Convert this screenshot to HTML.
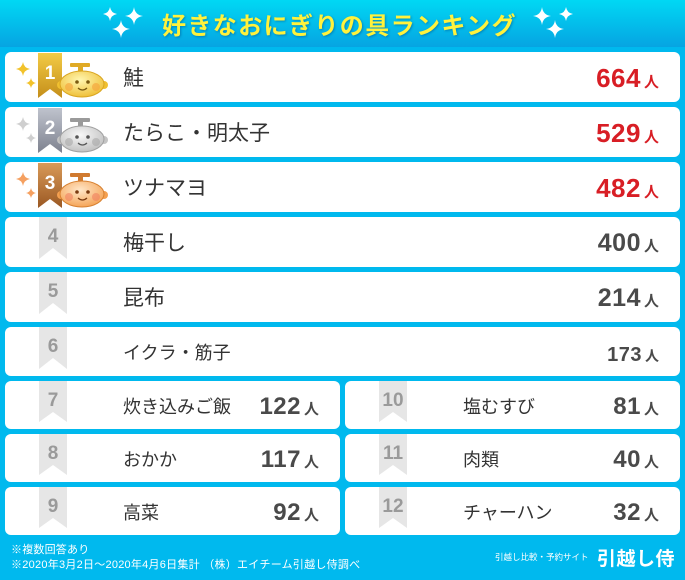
<!DOCTYPE html>
<html><head><meta charset="utf-8">
<style>
html,body{margin:0;padding:0}
body{width:685px;height:580px;position:relative;overflow:hidden;background:#00b9ee;font-family:"Liberation Sans","Noto Sans CJK JP",sans-serif}
.band{position:absolute;left:0;top:0;width:685px;height:47px;background:linear-gradient(#00d8f4,#06a4e2)}
.title{position:absolute;left:162px;top:0;height:47px;line-height:47px;font-family:"Noto Sans CJK JP",sans-serif;font-weight:bold;font-size:24px;letter-spacing:1.4px;color:#fff23c;text-shadow:1px 1px 2px rgba(0,70,130,.45);white-space:nowrap}
.card{position:absolute;background:#fff;border-radius:6px}
.card svg{position:absolute;left:0;top:0}
.lbl{position:absolute;left:118px;top:0;font-family:"Noto Sans CJK JP",sans-serif;color:#333;white-space:nowrap}
.num{position:absolute;right:21px;line-height:1;font-family:"Liberation Sans",sans-serif;font-weight:bold;color:#4a4a4a;white-space:nowrap;letter-spacing:0.5px}
.num span{font-family:"Noto Sans CJK JP",sans-serif;font-size:15px;margin-left:3px;letter-spacing:0}
.red{color:#d81e25}
.foot{position:absolute;color:#fff;font-family:"Liberation Sans","Noto Sans CJK JP",sans-serif;white-space:nowrap;line-height:1}
</style></head><body>
<div class="band"></div>
<svg style="position:absolute;left:0;top:0" width="685" height="47">
<g fill="#fff">
<path d="M110,7 Q111,13 117,14 Q111,15 110,21 Q109,15 103,14 Q109,13 110,7Z"/>
<path d="M134,7 Q135,15 143,16 Q135,17 134,25 Q133,17 125,16 Q133,15 134,7Z"/>
<path d="M121,20 Q122,28 130,29 Q122,30 121,38 Q120,30 112,29 Q120,28 121,20Z"/>
<path d="M566,7 Q567,13 573,14 Q567,15 566,21 Q565,15 559,14 Q565,13 566,7Z"/>
<path d="M542,7 Q543,15 551,16 Q543,17 542,25 Q541,17 533,16 Q541,15 542,7Z"/>
<path d="M555,20 Q556,28 564,29 Q556,30 555,38 Q554,30 546,29 Q554,28 555,20Z"/>
</g></svg>
<div class="title">好きなおにぎりの具ランキング</div>

<!-- 1 -->
<div class="card" style="left:5px;top:52px;width:675px;height:50px">
<svg width="110" height="50">
<defs>
<linearGradient id="g1" x1="0" y1="0" x2="0" y2="1"><stop offset="0" stop-color="#f3cb45"/><stop offset="1" stop-color="#c48e1a"/></linearGradient>
<radialGradient id="f1" cx="0.45" cy="0.35" r="0.7"><stop offset="0" stop-color="#fff6b0"/><stop offset="1" stop-color="#eebc30"/></radialGradient>
</defs>
<g fill="#f2c22a">
<path d="M18,10 Q19,16 25,17 Q19,18 18,24 Q17,18 11,17 Q17,16 18,10Z"/>
<path d="M26,26 Q26.8,30.2 31,31 Q26.8,31.8 26,36 Q25.2,31.8 21,31 Q25.2,30.2 26,26Z"/>
</g>
<path d="M33,1 H57 V46 L45,37 L33,46 Z" fill="url(#g1)"/>
<text x="45" y="27" text-anchor="middle" font-family="Liberation Sans" font-weight="bold" font-size="19" fill="#fff">1</text>
<rect x="65" y="11" width="20" height="4" rx="1" fill="#e0aa25"/>
<rect x="73" y="11" width="5" height="11" fill="#e0aa25"/>
<circle cx="56" cy="33" r="4" fill="#f0c030"/><circle cx="99" cy="33" r="4" fill="#f0c030"/>
<ellipse cx="77" cy="32" rx="22" ry="13" fill="url(#f1)" stroke="#d9a520" stroke-width="1"/>
<circle cx="64" cy="35" r="4" fill="#f5a840" opacity=".7"/><circle cx="91" cy="35" r="4" fill="#f5a840" opacity=".7"/>
<circle cx="72" cy="30" r="1.8" fill="#7a5a10"/><circle cx="83" cy="30" r="1.8" fill="#7a5a10"/>
<path d="M73,36 Q77.5,40 82,36" stroke="#7a5a10" stroke-width="1.2" fill="none"/>
</svg>
<div class="lbl" style="font-size:21px;line-height:50px">鮭</div>
<div class="num red" style="font-size:26px;top:13px">664<span>人</span></div>
</div>

<!-- 2 -->
<div class="card" style="left:5px;top:107px;width:675px;height:50px">
<svg width="110" height="50">
<defs>
<linearGradient id="g2" x1="0" y1="0" x2="0" y2="1"><stop offset="0" stop-color="#bfc3cd"/><stop offset="1" stop-color="#7e828f"/></linearGradient>
<radialGradient id="f2" cx="0.45" cy="0.35" r="0.7"><stop offset="0" stop-color="#f8f8f8"/><stop offset="1" stop-color="#bdbdbd"/></radialGradient>
</defs>
<g fill="#cfcfcf">
<path d="M18,10 Q19,16 25,17 Q19,18 18,24 Q17,18 11,17 Q17,16 18,10Z"/>
<path d="M26,26 Q26.8,30.2 31,31 Q26.8,31.8 26,36 Q25.2,31.8 21,31 Q25.2,30.2 26,26Z"/>
</g>
<path d="M33,1 H57 V46 L45,37 L33,46 Z" fill="url(#g2)"/>
<text x="45" y="27" text-anchor="middle" font-family="Liberation Sans" font-weight="bold" font-size="19" fill="#fff">2</text>
<rect x="65" y="11" width="20" height="4" rx="1" fill="#9a9a9a"/>
<rect x="73" y="11" width="5" height="11" fill="#9a9a9a"/>
<circle cx="56" cy="33" r="4" fill="#c4c4c4"/><circle cx="99" cy="33" r="4" fill="#c4c4c4"/>
<ellipse cx="77" cy="32" rx="22" ry="13" fill="url(#f2)" stroke="#a0a0a0" stroke-width="1"/>
<circle cx="64" cy="35" r="4" fill="#a8a8a8" opacity=".6"/><circle cx="91" cy="35" r="4" fill="#a8a8a8" opacity=".6"/>
<circle cx="72" cy="30" r="1.8" fill="#555"/><circle cx="83" cy="30" r="1.8" fill="#555"/>
<path d="M73,36 Q77.5,40 82,36" stroke="#555" stroke-width="1.2" fill="none"/>
</svg>
<div class="lbl" style="font-size:21px;line-height:50px">たらこ・明太子</div>
<div class="num red" style="font-size:26px;top:13px">529<span>人</span></div>
</div>

<!-- 3 -->
<div class="card" style="left:5px;top:162px;width:675px;height:50px">
<svg width="110" height="50">
<defs>
<linearGradient id="g3" x1="0" y1="0" x2="0" y2="1"><stop offset="0" stop-color="#d99a58"/><stop offset="1" stop-color="#9a5823"/></linearGradient>
<radialGradient id="f3" cx="0.45" cy="0.35" r="0.7"><stop offset="0" stop-color="#ffe6c8"/><stop offset="1" stop-color="#f4a050"/></radialGradient>
</defs>
<g fill="#f5a060">
<path d="M18,10 Q19,16 25,17 Q19,18 18,24 Q17,18 11,17 Q17,16 18,10Z"/>
<path d="M26,26 Q26.8,30.2 31,31 Q26.8,31.8 26,36 Q25.2,31.8 21,31 Q25.2,30.2 26,26Z"/>
</g>
<path d="M33,1 H57 V46 L45,37 L33,46 Z" fill="url(#g3)"/>
<text x="45" y="27" text-anchor="middle" font-family="Liberation Sans" font-weight="bold" font-size="19" fill="#fff">3</text>
<rect x="65" y="11" width="20" height="4" rx="1" fill="#d07a30"/>
<rect x="73" y="11" width="5" height="11" fill="#d07a30"/>
<circle cx="56" cy="33" r="4" fill="#f4a050"/><circle cx="99" cy="33" r="4" fill="#f4a050"/>
<ellipse cx="77" cy="32" rx="22" ry="13" fill="url(#f3)" stroke="#d78030" stroke-width="1"/>
<circle cx="64" cy="35" r="4" fill="#f08060" opacity=".6"/><circle cx="91" cy="35" r="4" fill="#f08060" opacity=".6"/>
<circle cx="72" cy="30" r="1.8" fill="#7a3a10"/><circle cx="83" cy="30" r="1.8" fill="#7a3a10"/>
<path d="M73,36 Q77.5,40 82,36" stroke="#7a3a10" stroke-width="1.2" fill="none"/>
</svg>
<div class="lbl" style="font-size:21px;line-height:50px">ツナマヨ</div>
<div class="num red" style="font-size:26px;top:13px">482<span>人</span></div>
</div>

<!-- 4 -->
<div class="card" style="left:5px;top:217px;width:675px;height:50px">
<svg width="70" height="50"><path d="M34,0 H62 V42 L48,31 L34,42 Z" fill="#e6e6e6"/>
<text x="48" y="25" text-anchor="middle" font-family="Liberation Sans" font-weight="bold" font-size="19" fill="#9a9a9a">4</text></svg>
<div class="lbl" style="font-size:21px;line-height:50px">梅干し</div>
<div class="num" style="font-size:25px;top:14px">400<span>人</span></div>
</div>

<!-- 5 -->
<div class="card" style="left:5px;top:272px;width:675px;height:50px">
<svg width="70" height="50"><path d="M34,0 H62 V42 L48,31 L34,42 Z" fill="#e6e6e6"/>
<text x="48" y="25" text-anchor="middle" font-family="Liberation Sans" font-weight="bold" font-size="19" fill="#9a9a9a">5</text></svg>
<div class="lbl" style="font-size:21px;line-height:50px">昆布</div>
<div class="num" style="font-size:25px;top:14px">214<span>人</span></div>
</div>

<!-- 6 -->
<div class="card" style="left:5px;top:327px;width:675px;height:49px">
<svg width="70" height="49"><path d="M34,0 H62 V42 L48,31 L34,42 Z" fill="#e6e6e6"/>
<text x="48" y="25" text-anchor="middle" font-family="Liberation Sans" font-weight="bold" font-size="19" fill="#9a9a9a">6</text></svg>
<div class="lbl" style="font-size:18px;line-height:51px">イクラ・筋子</div>
<div class="num" style="font-size:20px;top:18px">173<span style="font-size:14px">人</span></div>
</div>

<!-- 7 -->
<div class="card" style="left:5px;top:381px;width:335px;height:48px">
<svg width="70" height="48"><path d="M34,0 H62 V41 L48,31 L34,41 Z" fill="#e6e6e6"/>
<text x="48" y="25" text-anchor="middle" font-family="Liberation Sans" font-weight="bold" font-size="19" fill="#9a9a9a">7</text></svg>
<div class="lbl" style="font-size:18px;line-height:50px">炊き込みご飯</div>
<div class="num" style="font-size:24px;top:14px">122<span>人</span></div>
</div>

<!-- 8 -->
<div class="card" style="left:5px;top:434px;width:335px;height:48px">
<svg width="70" height="48"><path d="M34,0 H62 V41 L48,31 L34,41 Z" fill="#e6e6e6"/>
<text x="48" y="25" text-anchor="middle" font-family="Liberation Sans" font-weight="bold" font-size="19" fill="#9a9a9a">8</text></svg>
<div class="lbl" style="font-size:18px;line-height:50px">おかか</div>
<div class="num" style="font-size:24px;top:14px">117<span>人</span></div>
</div>

<!-- 9 -->
<div class="card" style="left:5px;top:487px;width:335px;height:48px">
<svg width="70" height="48"><path d="M34,0 H62 V41 L48,31 L34,41 Z" fill="#e6e6e6"/>
<text x="48" y="25" text-anchor="middle" font-family="Liberation Sans" font-weight="bold" font-size="19" fill="#9a9a9a">9</text></svg>
<div class="lbl" style="font-size:18px;line-height:50px">高菜</div>
<div class="num" style="font-size:24px;top:14px">92<span>人</span></div>
</div>

<!-- 10 -->
<div class="card" style="left:345px;top:381px;width:335px;height:48px">
<svg width="70" height="48"><path d="M34,0 H62 V41 L48,31 L34,41 Z" fill="#e6e6e6"/>
<text x="48" y="25" text-anchor="middle" font-family="Liberation Sans" font-weight="bold" font-size="19" fill="#9a9a9a">10</text></svg>
<div class="lbl" style="font-size:18px;line-height:50px">塩むすび</div>
<div class="num" style="font-size:24px;top:14px">81<span>人</span></div>
</div>

<!-- 11 -->
<div class="card" style="left:345px;top:434px;width:335px;height:48px">
<svg width="70" height="48"><path d="M34,0 H62 V41 L48,31 L34,41 Z" fill="#e6e6e6"/>
<text x="48" y="25" text-anchor="middle" font-family="Liberation Sans" font-weight="bold" font-size="19" fill="#9a9a9a">11</text></svg>
<div class="lbl" style="font-size:18px;line-height:50px">肉類</div>
<div class="num" style="font-size:24px;top:14px">40<span>人</span></div>
</div>

<!-- 12 -->
<div class="card" style="left:345px;top:487px;width:335px;height:48px">
<svg width="70" height="48"><path d="M34,0 H62 V41 L48,31 L34,41 Z" fill="#e6e6e6"/>
<text x="48" y="25" text-anchor="middle" font-family="Liberation Sans" font-weight="bold" font-size="19" fill="#9a9a9a">12</text></svg>
<div class="lbl" style="font-size:18px;line-height:50px">チャーハン</div>
<div class="num" style="font-size:24px;top:14px">32<span>人</span></div>
</div>

<div class="foot" style="left:11px;top:545px;font-size:11px;letter-spacing:0.2px">※複数回答あり</div>
<div class="foot" style="left:11px;top:560px;font-size:11px;letter-spacing:0.25px">※2020年3月2日〜2020年4月6日集計 （株）エイチーム引越し侍調べ</div>
<div class="foot" style="left:495px;top:553px;font-size:8.5px">引越し比較・予約サイト</div>
<div class="foot" style="left:597px;top:548px;font-size:19px;font-weight:bold;letter-spacing:0.5px;font-family:'Noto Sans CJK JP',sans-serif">引越し侍</div>
</body></html>
